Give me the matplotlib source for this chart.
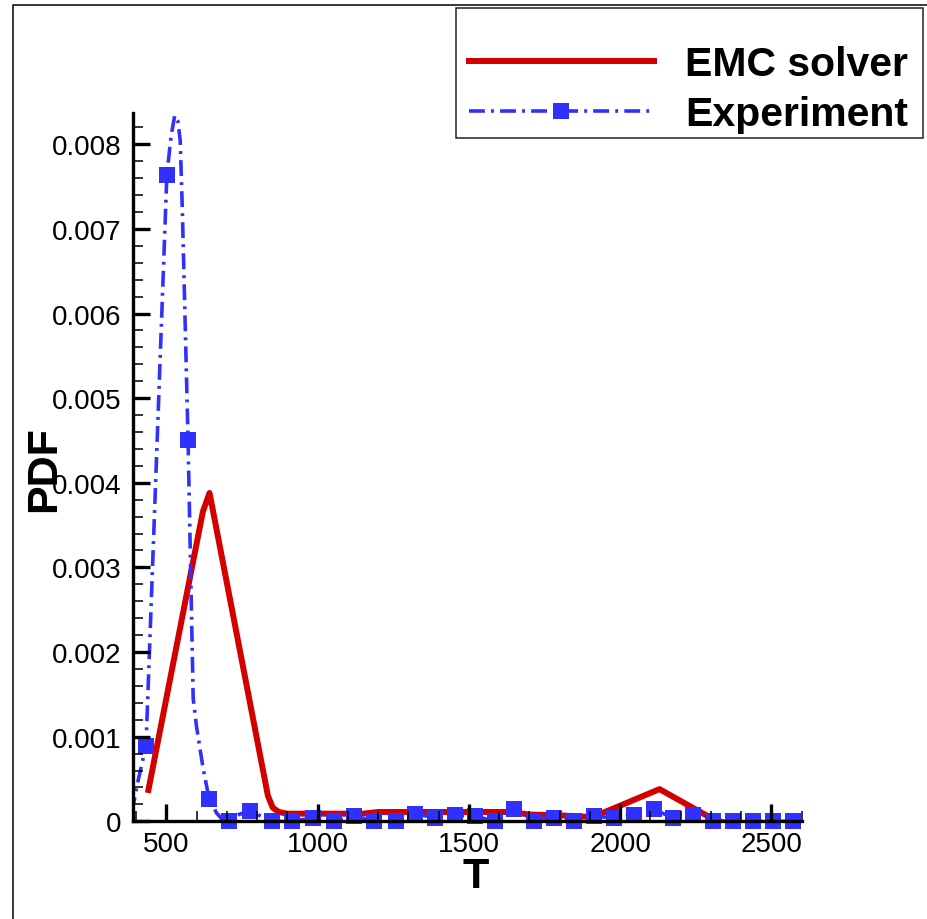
import matplotlib.pyplot as plt
from matplotlib.lines import Line2D
from matplotlib.patches import Rectangle
from matplotlib.ticker import MultipleLocator

plt.rcParams['font.family'] = ['Liberation Sans', 'DejaVu Sans']

# --- data ---
# EMC solver PDF of temperature
emc_T = [441, 621, 643, 836, 852, 872, 900, 1150, 1200, 1640, 1700, 1800, 1910, 2130, 2310, 2330]
emc_pdf = [0.00037, 0.00366, 0.00388, 0.00030, 0.00016, 0.00011, 0.00009, 0.00009, 0.00011,
           0.00011, 0.00008, 0.00007, 0.00005, 0.00038, 0.00002, 0.0]

# experimental points (markers)
exp_T = [433, 502, 572, 642, 708, 776, 848, 916, 985, 1053, 1122, 1188, 1258, 1323, 1389,
         1455, 1521, 1587, 1650, 1716, 1782, 1848, 1914, 1980, 2046, 2112, 2175, 2241, 2307,
         2373, 2439, 2505, 2572]
exp_pdf = [0.00089, 0.00764, 0.00451, 0.00026, 0.0, 0.000125, 0.0, 0.0, 0.00004, 0.0,
           0.00006, 0.0, 0.0, 0.00009, 0.00004, 0.00007, 0.00006, 0.0, 0.00014, 0.0,
           0.00004, 0.0, 0.00006, 0.00004, 0.00008, 0.00014, 0.00004, 0.00007, 0.0,
           0.0, 0.0, 0.0, 0.0]

# smoothed experimental curve
exp_curve_T = [386, 408, 433, 502, 516, 528, 538, 546, 553, 572, 589, 600, 622, 642, 666,
               690, 708, 740, 776, 848, 916, 985, 1053, 1122, 1188, 1258, 1323, 1389, 1455,
               1521, 1587, 1650, 1716, 1782, 1848, 1914, 1980, 2046, 2112, 2175, 2241, 2307,
               2373, 2439, 2505, 2572]
exp_curve_pdf = [0.0001, 0.0005, 0.00089, 0.00764, 0.0081, 0.00834, 0.00828, 0.00805,
                 0.00724, 0.00451, 0.00145, 0.00112, 0.00062, 0.00026, 0.0001, 0.0, 0.0,
                 0.00008, 0.000125, 0.0, 0.0, 0.00004, 0.0, 0.00006, 0.0, 0.0, 0.00009,
                 0.00004, 0.00007, 0.00006, 0.0, 0.00014, 0.0, 0.00004, 0.0, 0.00006,
                 0.00004, 0.00008, 0.00014, 0.00004, 0.00007, 0.0, 0.0, 0.0, 0.0, 0.0]

x_ticks = [500, 1000, 1500, 2000, 2500]
y_ticks = [0, 0.001, 0.002, 0.003, 0.004, 0.005, 0.006, 0.007, 0.008]
y_tick_labels = ['0', '0.001', '0.002', '0.003', '0.004', '0.005', '0.006', '0.007', '0.008']

red = '#d40000'
blue = '#3030ff'
dashdot = (0, (4.4, 1.7, 0.8, 1.7))

# --- figure ---
fig = plt.figure(figsize=(9.28, 9.20), dpi=100)
ax = fig.add_axes([0.1433, 0.1062, 0.7206, 0.7699])

ax.plot(emc_T, emc_pdf, color=red, lw=4.3, zorder=2)
ax.plot(exp_curve_T, exp_curve_pdf, color=blue, lw=2.6, linestyle=dashdot, zorder=2.1)
ax.plot(exp_T, exp_pdf, linestyle='none', marker='s', ms=12, color=blue,
        markeredgewidth=0, zorder=2.2, clip_on=False)

ax.set_xlim(390, 2600)
ax.set_ylim(0, 0.00837)
ax.set_xticks(x_ticks)
ax.set_yticks(y_ticks)
ax.set_yticklabels(y_tick_labels)
ax.xaxis.set_minor_locator(MultipleLocator(100))
ax.yaxis.set_minor_locator(MultipleLocator(0.0002))

for side in ['top', 'right']:
    ax.spines[side].set_visible(False)
for side in ['left', 'bottom']:
    ax.spines[side].set_linewidth(2.4)
ax.set_axisbelow(False)

ax.tick_params(which='major', direction='in', length=12.5, width=2.4, labelsize=20)
ax.tick_params(which='minor', direction='in', length=7.2, width=1.1)
ax.tick_params(axis='x', which='major', pad=7)
ax.tick_params(axis='y', which='major', pad=8)

# axis titles
fig.text(476 / 928, 1 - 888 / 920, 'T', ha='center', va='baseline',
         fontsize=31, fontweight='bold')
fig.text(55 / 928, 1 - 469 / 920, 'PDF', ha='center', va='baseline', rotation=90,
         rotation_mode='anchor', fontsize=31, fontweight='bold')

# legend
handles = [Line2D([], [], color=red, lw=4.3),
           Line2D([], [], color=blue, lw=2.6, linestyle=dashdot, marker='s', ms=12,
                  markeredgewidth=0)]
fig.legend(handles, ['EMC solver', 'Experiment'], loc='upper left',
           bbox_to_anchor=(469 / 928, 1 - 46 / 920), frameon=False, borderpad=0,
           borderaxespad=0, handlelength=4.51, handletextpad=0.76, labelspacing=0.30,
           prop={'weight': 'bold', 'size': 29.5})
fig.add_artist(Rectangle((455.7 / 928, 1 - 139.3 / 920), 467 / 928, 130 / 920,
                         transform=fig.transFigure, fill=False, edgecolor='#222222',
                         linewidth=1.1))

# outer frame
fig.add_artist(Rectangle((13.5 / 928, -0.1), 1.2, 1.1 - 6 / 920,
                         transform=fig.transFigure, fill=False, edgecolor='black',
                         linewidth=1.1))

fig.savefig('out.png', dpi=100)
